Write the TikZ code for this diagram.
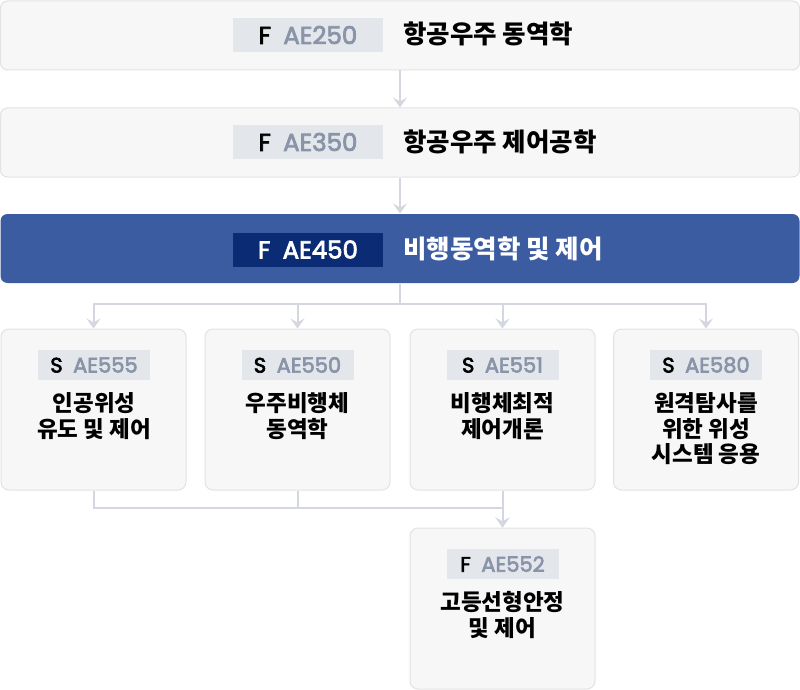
\documentclass[tikz,border=0pt]{standalone}
\usepackage{fontspec}
\setmainfont{Noto Sans CJK KR}
\newfontfamily\codefont{Poppins}[FakeBold=3]
\usetikzlibrary{arrows.meta}
\definecolor{boxfill}{HTML}{F7F7F7}
\definecolor{boxline}{HTML}{E2E2E2}
\definecolor{tagfill}{HTML}{E3E7EC}
\definecolor{codegray}{HTML}{8A94A8}
\definecolor{linkgray}{HTML}{D4D7E0}
\definecolor{mainblue}{HTML}{3B5CA1}
\definecolor{navy}{HTML}{0B2B74}
\newcommand{\code}[3][codegray]{#2\hspace{0.5em}\textcolor{#1}{#3}}

\begin{document}
\begin{tikzpicture}[x=1pt,y=-1pt,
    wide/.style={draw=boxline,fill=boxfill,line width=1pt,rounded corners=7pt,minimum width=799pt,minimum height=69pt},
    card/.style={draw=boxline,fill=boxfill,line width=1pt,rounded corners=8pt,minimum width=185pt,minimum height=161pt},
    bigtag/.style={fill=tagfill,inner sep=0pt,minimum width=150pt,minimum height=34pt,font=\codefont\fontsize{24.5}{24.5}\selectfont},
    smalltag/.style={fill=tagfill,inner sep=0pt,minimum width=112pt,minimum height=30pt,font=\codefont\fontsize{21}{21}\selectfont},
    bigtitle/.style={anchor=base west,inner sep=0pt,font=\bfseries\fontsize{25.5}{25.5}\selectfont},
    cardtitle/.style={anchor=north,inner sep=0pt,align=center,font=\bfseries\fontsize{22.5}{25.5}\selectfont},
    link/.style={draw=linkgray,line width=2pt,-{Stealth[length=10pt,width=14pt,inset=4pt]}}]
    \useasboundingbox (0,0) rectangle (800,690);

    \node[wide] (c250) at (400,35.5) {};
    \node[bigtag] (t250) at (308,35) {\code{F}{AE250}};
    \node[bigtitle] (n250) at (403,44) {항공우주 동역학};

    \node[wide] (c350) at (400,142.5) {};
    \node[bigtag] (t350) at (308,142) {\code{F}{AE350}};
    \node[bigtitle] (n350) at (403,151) {항공우주 제어공학};

    \node[wide,draw=none,fill=mainblue] (c450) at (400,248.5) {};
    \node[bigtag,fill=navy,text=white] (t450) at (308,249.5) {\code[white]{F}{AE450}};
    \node[bigtitle,text=white] (n450) at (403,258) {비행동역학 및 제어};

    \node[card] (s555) at (93.5,409.5) {};
    \node[smalltag] (t555) at (94,365) {\code{S}{AE555}};
    \node[cardtitle] (n555) at (94,392.5) {인공위성\\유도 및 제어};

    \node[card] (s550) at (297.5,409.5) {};
    \node[smalltag] (t550) at (297.5,365) {\code{S}{AE550}};
    \node[cardtitle] (n550) at (297.5,392.5) {우주비행체\\동역학};

    \node[card] (s551) at (502.5,409.5) {};
    \node[smalltag] (t551) at (502.5,365) {\code{S}{AE551}};
    \node[cardtitle] (n551) at (502.5,392.5) {비행체최적\\제어개론};

    \node[card] (s580) at (706,409.5) {};
    \node[smalltag] (t580) at (706,365) {\code{S}{AE580}};
    \node[cardtitle] (n580) at (706,392.5) {원격탐사를\\위한 위성\\시스템 응용};

    \node[card] (f552) at (502.5,608.5) {};
    \node[smalltag] (t552) at (502.5,564) {\code{F}{AE552}};
    \node[cardtitle] (n552) at (502.5,591.5) {고등선형안정\\및 제어};

    \draw[link] (c250) -- (c350);
    \draw[link] (c350) -- (c450);
    \foreach \s in {s555,s550,s551,s580}
        \draw[link] (c450.south) -- ++(0,20.5) -| (\s.north);
    \draw[link] (s555.south) -- ++(0,17.5) -| (f552.north);
    \draw[link,-] (s550.south) -- ++(0,17.5);
    \draw[link] (s551) -- (f552);
\end{tikzpicture}
\end{document}
